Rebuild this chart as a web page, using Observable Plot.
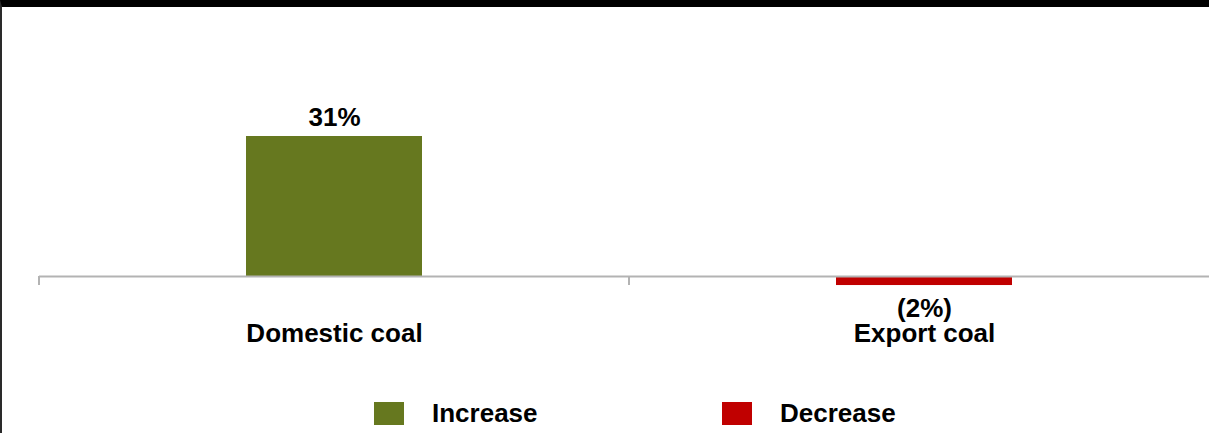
<!DOCTYPE html>
<html><head><meta charset="utf-8">
<script src="https://cdn.jsdelivr.net/npm/d3@7"></script>
<script src="https://cdn.jsdelivr.net/npm/@observablehq/plot@0.6"></script>
<style>
html,body{margin:0;padding:0;background:#fff;}
#wrap{position:relative;width:1207px;height:426px;border-top:7px solid #000;border-left:2px solid #2a2a2a;font-family:"Liberation Sans",Arial,sans-serif;overflow:hidden;}
#chart svg{display:block;}
#legend{position:absolute;left:372px;top:393px;display:flex;}
.item{display:flex;align-items:center;width:348px;height:26px;}
.sw{width:30px;height:23px;margin-right:28px;}
.lab{font-weight:bold;font-size:26px;line-height:26px;color:#000;}
</style></head><body>
<div id="wrap"><div id="chart"></div><div id="legend"></div></div>
<script>
const categories = ["Domestic coal", "Export coal"];
const changes = [31, -2];
const legendLabels = ["Increase", "Decrease"];
const legendColors = ["#66781F", "#C00000"];

const data = categories.map((c, i) => ({
  category: c,
  value: changes[i],
  kind: changes[i] >= 0 ? legendLabels[0] : legendLabels[1]
}));
const fmt = v => v >= 0 ? `${v}%` : `(${-v}%)`;

function boundaryTicks(...args) {
  const scales = args.find(a => a && typeof a.x === "function");
  const x = scales.x, y = scales.y;
  const bw = typeof x.bandwidth === "function" ? x.bandwidth() : (x.bandwidth || 0);
  const centers = categories.map(c => x(c) + bw / 2);
  const step = centers[1] - centers[0];
  const bounds = [centers[0] - step / 2, ...centers.map(c => c + step / 2)];
  const y0 = y(0);
  const g = d3.create("svg:g");
  g.selectAll("line").data(bounds).join("line")
    .attr("x1", d => d).attr("x2", d => d)
    .attr("y1", y0).attr("y2", y0 + 9)
    .attr("stroke", "#b3b3b3").attr("stroke-width", 2);
  return g.node();
}

const chart = Plot.plot({
  width: 1207,
  height: 365,
  marginLeft: 37,
  marginRight: 0,
  marginTop: 0,
  marginBottom: 52,
  style: {fontFamily: '"Liberation Sans", Arial, sans-serif', fontSize: "26px", fontWeight: "bold", color: "#000", background: "transparent", overflow: "visible"},
  x: {domain: categories, range: [37, 1217], paddingInner: 0.702, paddingOuter: 0.351, label: null},
  y: {domain: [0, 31], range: [269, 129], axis: null},
  color: {domain: legendLabels, range: legendColors},
  marks: [
    Plot.barY(data, {x: "category", y: "value", fill: "kind"}),
    Plot.ruleY([0], {stroke: "#b3b3b3", strokeWidth: 2}),
    boundaryTicks,
    Plot.text(data.filter(d => d.value >= 0), {x: "category", y: "value", text: d => fmt(d.value), lineAnchor: "bottom", dy: -11, fill: "#000", fontSize: 26, fontWeight: "bold"}),
    Plot.text(data.filter(d => d.value < 0), {x: "category", y: "value", text: d => fmt(d.value), lineAnchor: "top", dy: 13, fill: "#000", fontSize: 26, fontWeight: "bold"}),
    Plot.axisX({tickSize: 0, tickPadding: 3, fontSize: 26, fontWeight: "bold", fill: "#000"})
  ]
});
document.getElementById("chart").appendChild(chart);

const legend = d3.select("#legend");
const items = legend.selectAll(".item").data(legendLabels).join("div").attr("class", "item");
items.append("div").attr("class", "sw").style("background", (d, i) => legendColors[i]);
items.append("div").attr("class", "lab").text(d => d);
</script>
</body></html>
